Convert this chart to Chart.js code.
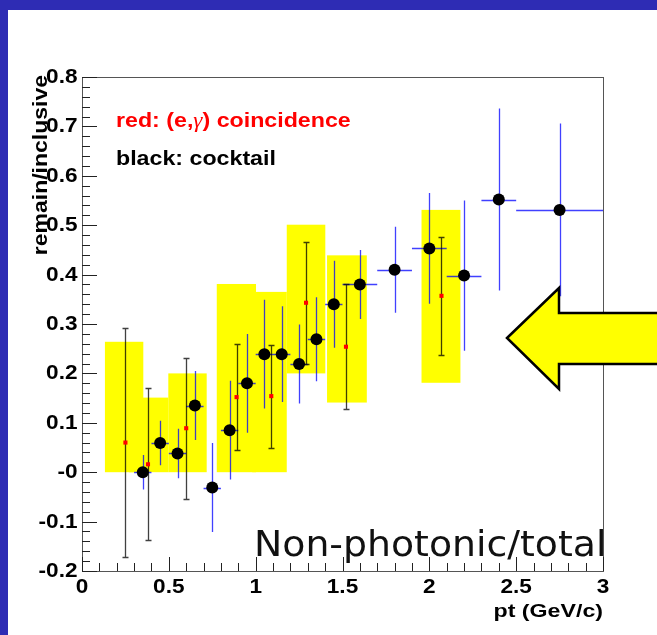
<!DOCTYPE html>
<html>
<head>
<meta charset="utf-8">
<title>Non-photonic/total</title>
<script src="https://cdn.jsdelivr.net/npm/chart.js@4.4.1/dist/chart.umd.min.js"></script>
<style>
  html, body { margin: 0; padding: 0; background: #fff; }
  canvas { display: block; }
</style>
</head>
<body>
<canvas id="ratioCanvas" width="657" height="635"></canvas>
<script>
// cocktail ratio (black points, blue error bars)
const cocktailPt   = [0.35, 0.45, 0.55, 0.65, 0.75, 0.85, 0.95, 1.05, 1.15, 1.25, 1.35, 1.45, 1.6, 1.8, 2.0, 2.2, 2.4, 2.75];
const cocktailVal  = [0.0, 0.059, 0.038, 0.135, -0.031, 0.085, 0.18, 0.239, 0.239, 0.219, 0.269, 0.34, 0.38, 0.41, 0.453, 0.398, 0.552, 0.531];
const cocktailPtErr = [0.05, 0.05, 0.05, 0.05, 0.05, 0.05, 0.05, 0.05, 0.05, 0.05, 0.05, 0.05, 0.1, 0.1, 0.1, 0.1, 0.1, 0.25];
const cocktailErr  = [0.035, 0.045, 0.05, 0.07, 0.09, 0.1, 0.1, 0.11, 0.097, 0.08, 0.085, 0.088, 0.07, 0.087, 0.112, 0.152, 0.184, 0.175];

// (e,gamma) coincidence ratio (red points, black error bars)
const coincPt  = [0.25, 0.38, 0.6, 0.89, 1.09, 1.29, 1.52, 2.07];
const coincVal = [0.06, 0.016, 0.089, 0.152, 0.154, 0.343, 0.254, 0.357];
const coincErr = [0.232, 0.154, 0.143, 0.108, 0.104, 0.123, 0.127, 0.12];

// systematic bands of the coincidence points
const sysPtLow  = [0.132, 0.27, 0.497, 0.776, 0.98, 1.179, 1.411, 1.955];
const sysPtHigh = [0.353, 0.497, 0.718, 1.002, 1.179, 1.401, 1.64, 2.179];
const sysLow    = [0, 0, 0, 0, 0, 0.2, 0.141, 0.181];
const sysHigh   = [0.264, 0.151, 0.2, 0.381, 0.365, 0.501, 0.439, 0.531];

const xTitle = 'pt (GeV/c)';
const yTitle = 'remain/inclusive';
const noteText = 'Non-photonic/total';

const rootFont = size => `bold ${size}px "Liberation Sans", Arial, sans-serif`;

function stretchedText(ctx, text, x, y, sx, align) {
    ctx.save();
    ctx.translate(x, y);
    ctx.scale(sx, 1);
    ctx.textAlign = align;
    ctx.fillText(text, 0, 0);
    ctx.restore();
}

const pagePlugin = {
    id: 'page',
    beforeDraw(chart) {
        const ctx = chart.ctx;
        ctx.save();
        ctx.fillStyle = '#2e2cb4';
        ctx.fillRect(0, 0, chart.width, chart.height);
        ctx.fillStyle = '#ffffff';
        ctx.fillRect(8, 10, chart.width - 8, chart.height - 10);
        ctx.restore();
    }
};

const sysBoxPlugin = {
    id: 'sysBoxes',
    beforeDatasetsDraw(chart) {
        const { ctx, scales: { x, y } } = chart;
        ctx.save();
        ctx.fillStyle = '#ffff00';
        sysPtLow.forEach((lo, i) => {
            const x0 = x.getPixelForValue(lo), x1 = x.getPixelForValue(sysPtHigh[i]);
            const y0 = y.getPixelForValue(sysHigh[i]), y1 = y.getPixelForValue(sysLow[i]);
            ctx.fillRect(x0, y0, x1 - x0, y1 - y0);
        });
        ctx.restore();
    }
};

const errorBarPlugin = {
    id: 'errorBars',
    beforeDatasetsDraw(chart) {
        const { ctx, scales: { x, y } } = chart;
        const snap = v => Math.round(v) + 0.5;
        ctx.save();
        ctx.lineWidth = 1.3;

        // blue bars, no caps
        ctx.strokeStyle = 'rgba(0,0,255,0.75)';
        cocktailPt.forEach((pt, i) => {
            const px = snap(x.getPixelForValue(pt)), py = snap(y.getPixelForValue(cocktailVal[i]));
            ctx.beginPath();
            ctx.moveTo(x.getPixelForValue(pt - cocktailPtErr[i]), py);
            ctx.lineTo(x.getPixelForValue(pt + cocktailPtErr[i]), py);
            ctx.moveTo(px, y.getPixelForValue(cocktailVal[i] + cocktailErr[i]));
            ctx.lineTo(px, y.getPixelForValue(cocktailVal[i] - cocktailErr[i]));
            ctx.stroke();
        });

        // black bars with end caps
        ctx.strokeStyle = 'rgba(0,0,0,0.75)';
        coincPt.forEach((pt, i) => {
            const px = snap(x.getPixelForValue(pt));
            const top = snap(y.getPixelForValue(coincVal[i] + coincErr[i]));
            const bot = snap(y.getPixelForValue(coincVal[i] - coincErr[i]));
            ctx.beginPath();
            ctx.moveTo(px, top); ctx.lineTo(px, bot);
            ctx.moveTo(px - 3, top); ctx.lineTo(px + 3, top);
            ctx.moveTo(px - 3, bot); ctx.lineTo(px + 3, bot);
            ctx.stroke();
        });
        ctx.restore();
    }
};

const framePlugin = {
    id: 'frame',
    afterDraw(chart) {
        const { ctx, chartArea: a, scales: { x, y } } = chart;
        ctx.save();

        // frame
        ctx.strokeStyle = '#555';
        ctx.lineWidth = 1;
        ctx.strokeRect(a.left + 0.5, a.top + 0.5, a.right - a.left, a.bottom - a.top);

        // inward ticks, 4 minor between majors
        ctx.strokeStyle = '#222';
        ctx.beginPath();
        const yt = y.ticks.map(t => t.value);
        yt.forEach((v, i) => {
            const py = Math.round(y.getPixelForValue(v)) + 0.5;
            ctx.moveTo(a.left, py); ctx.lineTo(a.left + 15, py);
            if (i < yt.length - 1) {
                for (let k = 1; k < 5; k++) {
                    const m = Math.round(y.getPixelForValue(v + (yt[i + 1] - v) * k / 5)) + 0.5;
                    ctx.moveTo(a.left, m); ctx.lineTo(a.left + 8, m);
                }
            }
        });
        const xt = x.ticks.map(t => t.value);
        xt.forEach((v, i) => {
            const px = Math.round(x.getPixelForValue(v)) + 0.5;
            ctx.moveTo(px, a.bottom); ctx.lineTo(px, a.bottom - 14);
            if (i < xt.length - 1) {
                for (let k = 1; k < 5; k++) {
                    const m = Math.round(x.getPixelForValue(v + (xt[i + 1] - v) * k / 5)) + 0.5;
                    ctx.moveTo(m, a.bottom); ctx.lineTo(m, a.bottom - 8);
                }
            }
        });
        ctx.stroke();

        // tick labels
        ctx.fillStyle = '#000';
        ctx.font = rootFont(20);
        ctx.textBaseline = 'middle';
        yt.forEach(v => {
            let s = v.toFixed(1);
            if (Math.abs(v) < 1e-9) s = '-0';
            stretchedText(ctx, s, a.left - 4.5, y.getPixelForValue(v) + 0.5, 1.13, 'right');
        });
        xt.forEach(v => {
            const s = String(parseFloat(v.toFixed(1)));
            stretchedText(ctx, s, x.getPixelForValue(v), a.bottom + 16, 1.13, 'center');
        });

        // axis titles
        ctx.textBaseline = 'alphabetic';
        ctx.font = rootFont(19);
        stretchedText(ctx, xTitle, a.right, 617, 1.22, 'right');
        ctx.save();
        ctx.translate(47, 75);
        ctx.rotate(-Math.PI / 2);
        ctx.font = rootFont(20);
        stretchedText(ctx, yTitle, 0, 0, 1.15, 'right');
        ctx.restore();

        // legend text
        let lx = 116;
        const lsx = 1.16;
        ctx.fillStyle = '#ff0000';
        [['red: (e,', rootFont(20)], ['\u03b3', 'italic 20px "Liberation Serif", serif'], [') coincidence', rootFont(20)]]
            .forEach(([t, f]) => {
                ctx.font = f;
                stretchedText(ctx, t, lx, 127, lsx, 'left');
                lx += ctx.measureText(t).width * lsx;
            });
        ctx.fillStyle = '#000';
        ctx.font = rootFont(20);
        stretchedText(ctx, 'black: cocktail', 116, 165, lsx, 'left');

        // big note in the lower right
        ctx.fillStyle = '#111';
        ctx.font = '35px "DejaVu Sans", sans-serif';
        stretchedText(ctx, noteText, 254, 556, 1.08, 'left');

        // block arrow pointing at the high-pt points
        ctx.beginPath();
        ctx.moveTo(507, 338);
        ctx.lineTo(559, 288);
        ctx.lineTo(559, 313);
        ctx.lineTo(662, 313);
        ctx.lineTo(662, 364);
        ctx.lineTo(559, 364);
        ctx.lineTo(559, 389);
        ctx.closePath();
        ctx.fillStyle = '#ffff00';
        ctx.fill();
        ctx.lineWidth = 2.5;
        ctx.strokeStyle = '#000';
        ctx.stroke();

        ctx.restore();
    }
};

const ctx = document.getElementById('ratioCanvas').getContext('2d');
new Chart(ctx, {
    type: 'scatter',
    data: {
        datasets: [
            {
                label: 'cocktail',
                data: cocktailPt.map((pt, i) => ({ x: pt, y: cocktailVal[i] })),
                backgroundColor: '#000',
                borderWidth: 0,
                pointRadius: 6,
                pointStyle: 'circle'
            },
            {
                label: '(e,\u03b3) coincidence',
                data: coincPt.map((pt, i) => ({ x: pt, y: coincVal[i] })),
                backgroundColor: '#ff0000',
                borderWidth: 0,
                pointRadius: 2.9,
                pointStyle: 'rect'
            }
        ]
    },
    options: {
        responsive: false,
        devicePixelRatio: 1,
        animation: false,
        events: [],
        layout: { padding: { top: 77, right: 54, left: 0, bottom: 0 } },
        plugins: { legend: { display: false }, tooltip: { enabled: false } },
        scales: {
            x: {
                type: 'linear', min: 0, max: 3,
                ticks: { display: false, stepSize: 0.5 },
                grid: { display: false }, border: { display: false },
                afterFit: s => { s.height = 64; }
            },
            y: {
                type: 'linear', min: -0.2, max: 0.8,
                ticks: { display: false, stepSize: 0.1 },
                grid: { display: false }, border: { display: false },
                afterFit: s => { s.width = 82; }
            }
        }
    },
    plugins: [pagePlugin, sysBoxPlugin, errorBarPlugin, framePlugin]
});
</script>
</body>
</html>
